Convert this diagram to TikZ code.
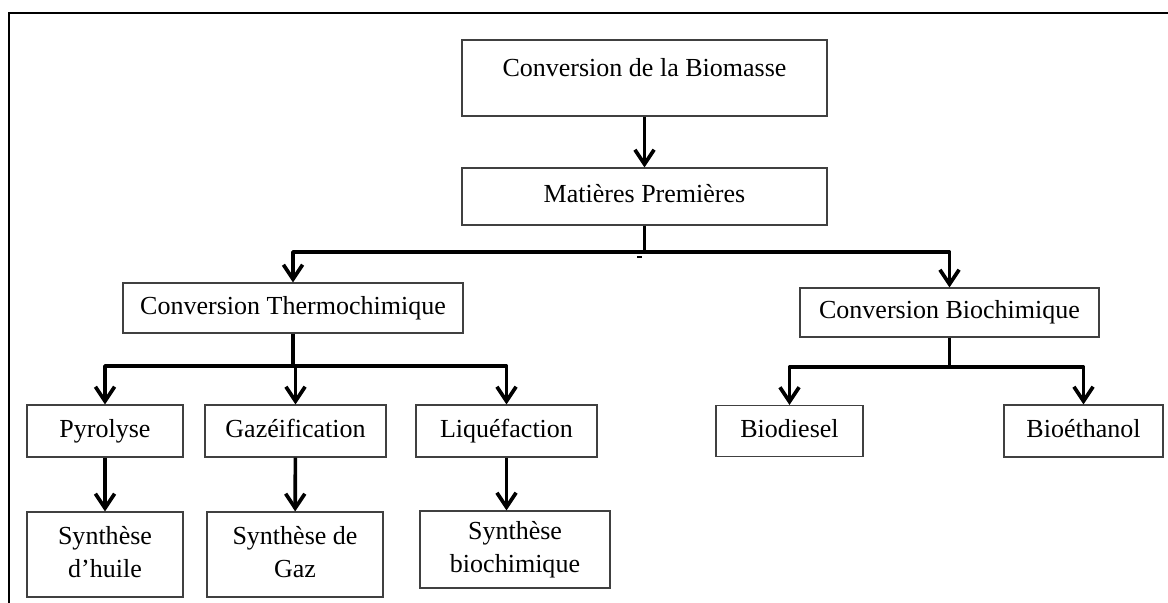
\documentclass[tikz,border=0pt]{standalone}
\usepackage{fontspec}
\setmainfont{Liberation Serif}
\usetikzlibrary{arrows.meta}

\begin{document}
\begin{tikzpicture}[x=0.025cm, y=-0.025cm,
  box/.style={draw=black!75, line width=0.8pt, inner sep=0pt,
    font=\fontsize{18.5}{23.5}\selectfont, text height=13pt, text depth=4pt},
  twobox/.style={draw=black!75, line width=0.8pt, inner sep=0pt, align=center,
    font=\fontsize{18.5}{23.5}\selectfont},
  link/.style={line width=2.6pt, line join=round},
  arrow/.style={link, -{Straight Barb[length=0.36cm,width=0.48cm]}}]
\useasboundingbox (0,0) rectangle (1168,603);

% Outer frame
\draw[line width=1.4pt] (9,603) -- (9,13) -- (1168,13);

% Top of the tree
\node[box, minimum width=9.125cm, text height=0.925cm, text depth=0.975cm] (biomasse) at (644.5,78) {Conversion de la Biomasse};
\node[box, minimum width=9.125cm, minimum height=1.425cm] (matieres) at (644.5,196.5) {Matières Premières};

% Two conversion routes
\node[box, minimum width=8.5cm, minimum height=1.25cm] (thermo) at (293,308) {Conversion Thermochimique};
\node[box, minimum width=7.475cm, minimum height=1.225cm] (biochimique) at (949.5,312.5) {Conversion Biochimique};

% Thermochemical processes
\node[box, minimum width=3.9cm, minimum height=1.3cm] (pyrolyse) at (105,431) {Pyrolyse};
\node[box, minimum width=4.525cm, minimum height=1.3cm] (gazeif) at (295.5,431) {Gazéification};
\node[box, minimum width=4.525cm, minimum height=1.3cm] (liquef) at (506.5,431) {Liquéfaction};

% Biochemical products
\node[box, minimum width=3.675cm, minimum height=1.275cm] (biodiesel) at (789.5,431) {Biodiesel};
\node[box, minimum width=3.975cm, minimum height=1.3cm] (bioethanol) at (1083.5,431) {Bioéthanol};

% Syntheses
\node[twobox, minimum width=3.9cm, minimum height=2.125cm] (huile) at (105,554.5) {\strut Synthèse\\\strut d’huile};
\node[twobox, minimum width=4.4cm, minimum height=2.125cm] (gaz) at (295,554.5) {\strut Synthèse de\\\strut Gaz};
\node[twobox, minimum width=4.75cm, minimum height=1.925cm] (biochim) at (515,549.5) {\strut Synthèse\\\strut biochimique};

% Connectors
\draw[arrow] (biomasse) -- (matieres);
\coordinate (j1) at (644.5,252);
\draw[link] (matieres) -- (j1);
\draw[line width=0.8pt] (637,257) -- (642,257);
\draw[arrow] (j1) -| (thermo);
\draw[arrow] (j1) -| (biochimique);

\coordinate (j2) at (293,366);
\draw[link] (thermo) -- (j2);
\draw[arrow] (j2) -| (pyrolyse);
\draw[arrow] (j2) -| (gazeif);
\draw[arrow] (j2) -| (liquef);

\coordinate (j3) at (949.5,367);
\draw[link] (biochimique) -- (j3);
\draw[arrow] (j3) -| (biodiesel);
\draw[arrow] (j3) -| (bioethanol);

\draw[arrow] (pyrolyse) -- (huile);
\draw[arrow] (gazeif) -- (gaz);
\draw[arrow] (liquef.south) -- (liquef.south |- biochim.north);
\end{tikzpicture}
\end{document}
